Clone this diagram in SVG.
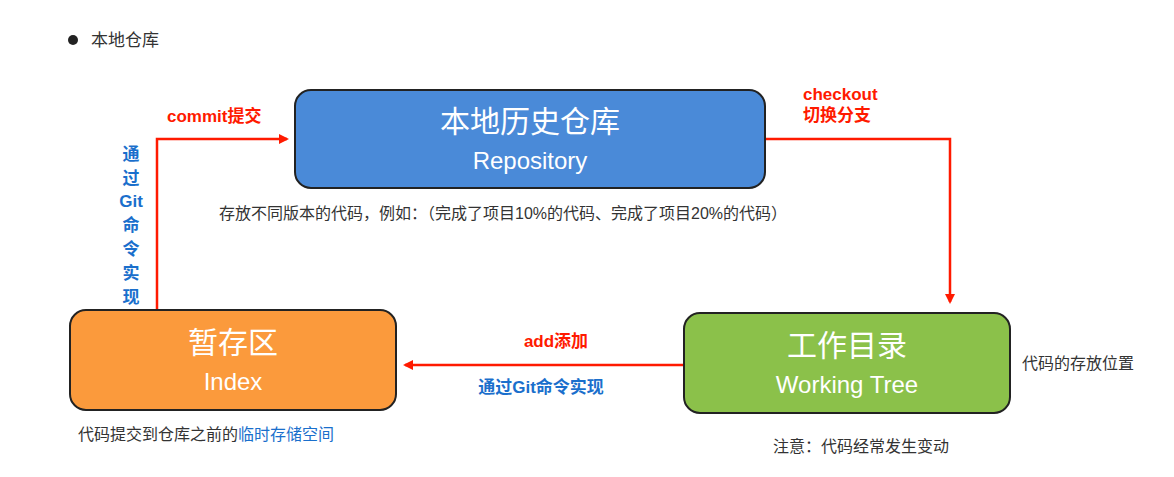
<svg xmlns="http://www.w3.org/2000/svg" width="1174" height="477" viewBox="0 0 1174 477">
<style>
text{font-family:"Liberation Sans","Noto Sans CJK SC",sans-serif}
.box{stroke:#222;stroke-width:2}
.t1{font-size:30px;fill:#fff;text-anchor:middle}
.t2{font-size:24px;fill:#fff;text-anchor:middle}
.note{font-size:16px;fill:#333}
.red{font-size:17px;font-weight:bold;fill:#ff1a00}
.blue{font-size:17px;font-weight:bold;fill:#1a6fcc}
.ln{stroke:#ff1a00;stroke-width:2.5;fill:none}
</style>
<defs><marker id="ah" markerWidth="10" markerHeight="10" refX="8" refY="5" orient="auto" markerUnits="userSpaceOnUse"><path d="M0,0L10,5L0,10z" fill="#ff1a00"/></marker></defs>
<rect width="1174" height="477" fill="#fff"/>
<circle cx="73" cy="40" r="5" fill="#222"/>
<text x="91" y="46" class="note" style="font-size:17px">本地仓库</text>
<g id="connectors">
<path class="ln" d="M157,310V139H287" marker-end="url(#ah)"/>
<path class="ln" d="M765,139H950V302" marker-end="url(#ah)"/>
<path class="ln" d="M684,365H405" marker-end="url(#ah)"/>
<text x="167" y="122" class="red">commit提交</text>
<text x="803" y="100" class="red">checkout</text>
<text x="803" y="121" class="red">切换分支</text>
<text x="556" y="347" class="red" text-anchor="middle">add添加</text>
<text x="541" y="393" class="blue" text-anchor="middle">通过Git命令实现</text>
<text class="blue" text-anchor="middle"><tspan x="131" y="160">通</tspan><tspan x="131" y="184">过</tspan><tspan x="131" y="207">Git</tspan><tspan x="131" y="231">命</tspan><tspan x="131" y="255">令</tspan><tspan x="131" y="279">实</tspan><tspan x="131" y="303">现</tspan></text>
</g>
<g id="repo">
<rect class="box" x="295" y="90" width="470" height="98" rx="16" fill="#4a8ad8"/>
<text x="530" y="132" class="t1">本地历史仓库</text>
<text x="530" y="169" class="t2">Repository</text>
<text x="219" y="219" class="note">存放不同版本的代码，例如：（完成了项目10%的代码、完成了项目20%的代码）</text>
</g>
<g id="index">
<rect class="box" x="70" y="310" width="326" height="100" rx="16" fill="#fb9a3c"/>
<text x="233" y="353" class="t1">暂存区</text>
<text x="233" y="390" class="t2">Index</text>
<text x="78" y="440" class="note">代码提交到仓库之前的<tspan fill="#1a6fcc">临时存储空间</tspan></text>
</g>
<g id="work">
<rect class="box" x="684" y="313" width="326" height="100" rx="16" fill="#8bc14a"/>
<text x="847" y="356" class="t1">工作目录</text>
<text x="847" y="393" class="t2">Working Tree</text>
<text x="1022" y="369" class="note">代码的存放位置</text>
<text x="773" y="452" class="note">注意：代码经常发生变动</text>
</g>
</svg>
